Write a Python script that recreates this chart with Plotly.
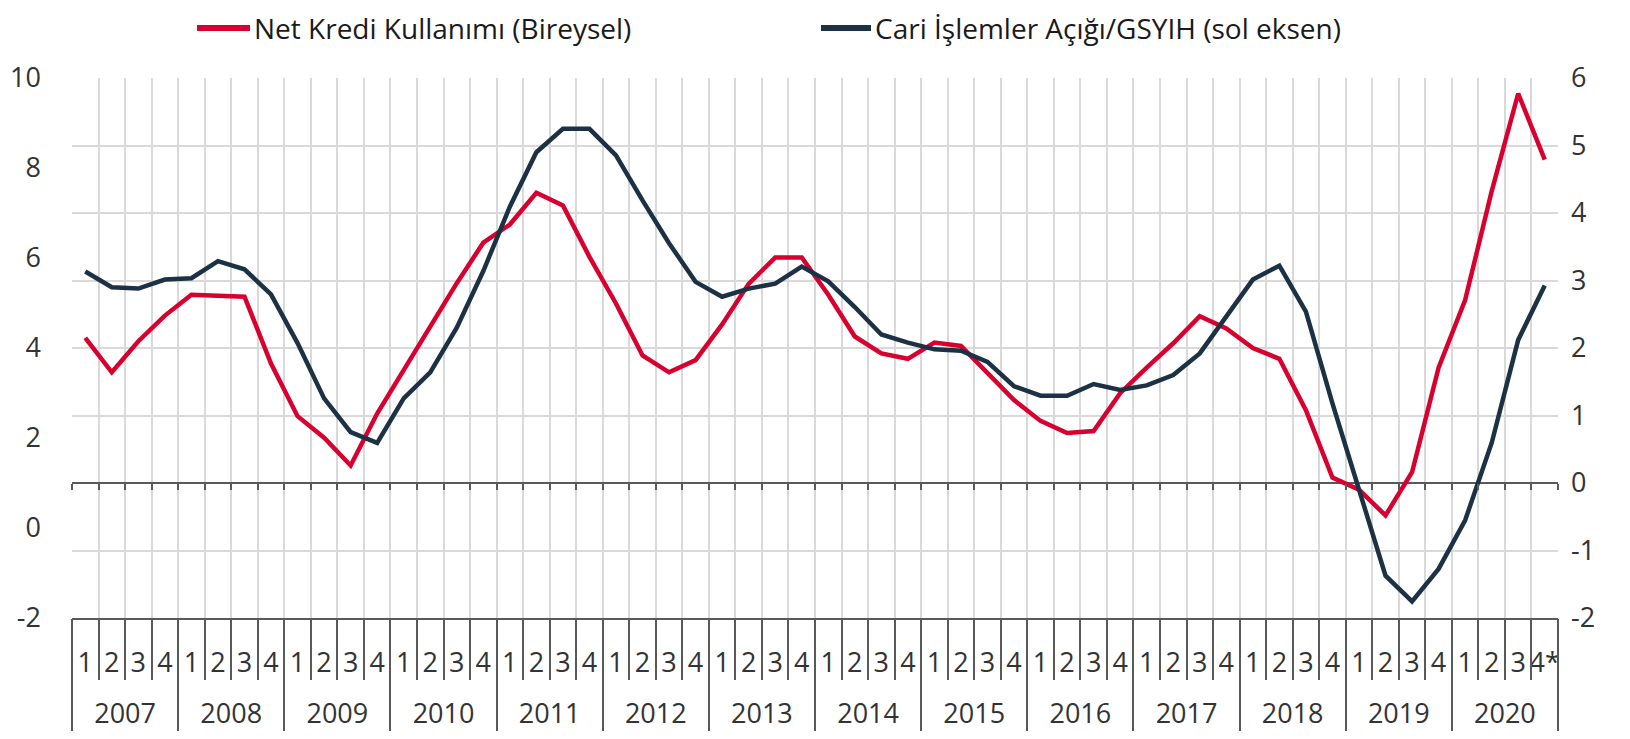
import plotly.graph_objects as go

# ---- data ----
years = ["2007", "2008", "2009", "2010", "2011", "2012", "2013",
         "2014", "2015", "2016", "2017", "2018", "2019", "2020"]
quarters = ["1", "2", "3", "4"] * 13 + ["1", "2", "3", "4*"]

series_names = ["Net Kredi Kullanımı (Bireysel)", "Cari İşlemler Açığı/GSYIH (sol eksen)"]

# Net Kredi Kullanımı (Bireysel) - right axis
kredi = [2.15, 1.64, 2.10, 2.48, 2.79, 2.78, 2.76, 1.77, 0.99, 0.67, 0.26, 1.03, 1.68, 2.33,
         2.96, 3.56, 3.83, 4.30, 4.11, 3.35, 2.66, 1.89, 1.64, 1.82, 2.35, 2.95, 3.34, 3.34,
         2.79, 2.17, 1.92, 1.84, 2.08, 2.03, 1.64, 1.23, 0.92, 0.74, 0.77, 1.33, 1.71, 2.07,
         2.47, 2.29, 2.00, 1.84, 1.08, 0.08, -0.10, -0.48, 0.16, 1.71, 2.71, 4.32, 5.77, 4.79]

# Cari İşlemler Açığı/GSYIH - left axis
cari = [5.70, 5.35, 5.32, 5.52, 5.55, 5.93, 5.75, 5.19, 4.11, 2.88, 2.13, 1.89, 2.88, 3.46,
        4.45, 5.71, 7.14, 8.35, 8.87, 8.87, 8.28, 7.28, 6.33, 5.47, 5.14, 5.32, 5.43, 5.81,
        5.48, 4.91, 4.30, 4.12, 3.97, 3.94, 3.69, 3.15, 2.94, 2.94, 3.20, 3.07, 3.17, 3.40,
        3.88, 4.72, 5.52, 5.83, 4.81, 2.77, 0.89, -1.06, -1.63, -0.91, 0.17, 1.89, 4.18, 5.39]

# axis tick values
right_ticks = [-2, -1, 0, 1, 2, 3, 4, 5, 6]
left_ticks = [-2, 0, 2, 4, 6, 8, 10]

# ---- derived positions ----
n = len(quarters)
idx = list(range(n))
bounds = [i - 0.5 for i in range(n + 1)]
year_centers = [4 * k + 1.5 for k in range(len(years))]
year_bounds = [4 * k - 0.5 for k in range(len(years) + 1)]
xr = [-0.5, n - 0.5]

RED = "#d7002f"
NAVY = "#1d3145"
GRID = "#d9d9d9"
AX = "#595959"
TXT = "#333333"
FONT = "Open Sans"
FS = 27

# figure sits inside the page's 8px body margin
W, H = 1614, 723
ML, MR, MT, MB = 64, 64, 70, 113
PW, PH = W - ML - MR, H - MT - MB

fig = go.Figure()
fig.add_trace(go.Scatter(x=idx, y=kredi, name=series_names[0],
                         mode="lines", line=dict(color=RED, width=4.5),
                         xaxis="x", yaxis="y"))
fig.add_trace(go.Scatter(x=idx, y=cari, name=series_names[1],
                         mode="lines", line=dict(color=NAVY, width=4.5),
                         xaxis="x", yaxis="y2"))
# empty helper traces so that the decorative overlay axes get drawn
for ax in ["x2", "x3", "x4", "x5"]:
    fig.add_trace(go.Scatter(x=[], y=[], xaxis=ax, yaxis="y", mode="lines",
                             showlegend=False, hoverinfo="skip"))

# ---- legend drawn as line swatches + text (pixel layout in figure coords) ----
def px_x(px):
    return (px - ML) / PW

def px_y(py):
    return 1 + (MT - py) / PH

leg_y = 20
leg_items = [(189, 242, 244, RED), (813, 863, 865, NAVY)]
shapes = []
annotations = []
for (x0, x1, xt, col), name in zip(leg_items, series_names):
    shapes.append(dict(type="line", xref="paper", yref="paper",
                       x0=px_x(x0), x1=px_x(x1), y0=px_y(leg_y), y1=px_y(leg_y),
                       line=dict(color=col, width=6)))
    annotations.append(dict(xref="paper", yref="paper", x=px_x(xt), y=px_y(leg_y),
                            xanchor="left", yanchor="middle", showarrow=False,
                            text=name, font=dict(family=FONT, size=FS + 1, color="#1a1a1a")))

common_x = dict(range=xr, automargin=False, zeroline=False, fixedrange=True)

fig.update_layout(
    template="none",
    width=W, height=H,
    margin=dict(l=ML, r=MR, t=MT, b=MB, pad=0, autoexpand=False),
    paper_bgcolor="white", plot_bgcolor="white",
    font=dict(family=FONT, size=FS, color=TXT),
    showlegend=False,
    shapes=shapes,
    annotations=annotations,
    # quarter labels + bottom axis line
    xaxis=dict(**common_x, anchor="y", tickmode="array", tickvals=idx, ticktext=quarters,
               ticks="", showgrid=False, showline=True, linecolor=AX, linewidth=1.5,
               tickfont=dict(size=FS), ticklabelstandoff=20),
    # vertical grid + quarter separators
    xaxis2=dict(**common_x, overlaying="x", anchor="y", tickmode="array", tickvals=bounds,
                showticklabels=False, ticks="outside", ticklen=61, tickwidth=1.5,
                tickcolor=AX, showgrid=True, gridcolor=GRID, gridwidth=1.5, showline=False),
    # year separators
    xaxis3=dict(**common_x, overlaying="x", anchor="y", tickmode="array", tickvals=year_bounds,
                showticklabels=False, ticks="outside", ticklen=MB, tickwidth=1.5,
                tickcolor=AX, showgrid=False, showline=False),
    # year labels
    xaxis4=dict(**common_x, overlaying="x", anchor="y", tickmode="array", tickvals=year_centers,
                ticktext=years, ticks="", showgrid=False, showline=False,
                tickfont=dict(size=FS), ticklabelstandoff=77),
    # ticks on the zero line
    xaxis5=dict(**common_x, overlaying="x", anchor="free", position=0.25, tickmode="array",
                tickvals=bounds, showticklabels=False, ticks="outside", ticklen=6,
                tickwidth=1.5, tickcolor=AX, showgrid=False, showline=False),
    # right axis (Net Kredi)
    yaxis=dict(range=[-2, 6], side="right", anchor="x", tickmode="array",
               tickvals=right_ticks, ticktext=[str(v) for v in right_ticks],
               showgrid=True, gridcolor=GRID, gridwidth=1.5, zeroline=True, zerolinecolor=AX,
               zerolinewidth=1.5, ticks="", showline=False, automargin=False,
               ticklabelstandoff=12, tickfont=dict(size=FS), fixedrange=True),
    # left axis (Cari)
    yaxis2=dict(range=[-2, 10], side="left", overlaying="y", anchor="x", tickmode="array",
                tickvals=left_ticks, ticktext=[str(v) for v in left_ticks],
                showgrid=False, zeroline=False, ticks="", showline=False,
                automargin=False, ticklabelstandoff=30, tickfont=dict(size=FS),
                fixedrange=True),
)

fig.write_html("out.html")
